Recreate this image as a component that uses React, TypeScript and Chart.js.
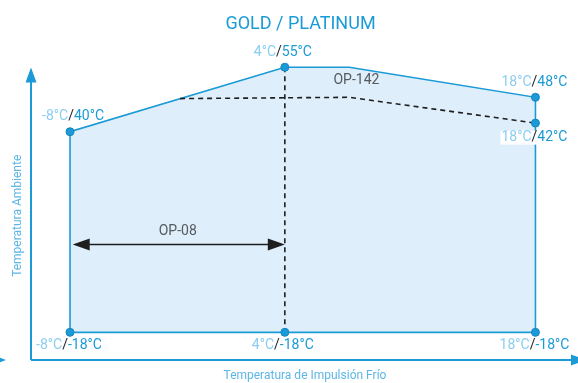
import React, { useEffect, useRef } from 'react';
import { Chart, registerables, LinearScale } from 'chart.js';

// ---------- data ----------
const TITLE = 'GOLD / PLATINUM';
const Y_TITLE = 'Temperatura Ambiente';
const X_TITLE = 'Temperatura de Impulsión Frío';

// labelled operating points: cold supply temperature (x) / ambient temperature (y)
const POINT_X = [-8, 4, 18, 18, -8, 4, 18];
const POINT_Y = [40, 55, 48, 42, -18, -18, -18];

// operating envelope (closed outline)
const ENVELOPE_X = [-8, -8, 4, 7.6, 18, 18, 18, -8];
const ENVELOPE_Y = [-18, 40, 55, 55, 48, 42, -18, -18];

// upper edge of envelope (used for the fill)
const TOP_X = [-8, 4, 7.6, 18];
const TOP_Y = [40, 55, 55, 48];
const FLOOR_Y = -18;

// OP-142 limit (dashed)
const OP142_X = [-1.85, 7.6, 18];
const OP142_Y = [47.7, 48, 42];
const OP142_LABEL = 'OP-142';
const OP142_LABEL_AT = [8, 51.8];

// vertical dashed guide at 4 °C
const GUIDE_X = [4, 4];
const GUIDE_Y = [55, -18];

// OP-08 range arrow
const OP08_X = [-7.85, 4];
const OP08_Y = 7.4;
const OP08_LABEL = 'OP-08';

// ---------- colours ----------
const BLUE = '#1a9ad6';
const LIGHT_BLUE = '#8ccdf0';
const AXIS_TITLE = '#5db6e6';
const FILL = '#deeefa';
const DARK = '#1e1e1e';
const GREY = '#555a5f';
const FONT = 'Roboto';

// ---------- schematic scale (compressed below the 40 °C break) ----------
const BREAK = 40;
const K = 0.8044;
const toS = (v: number) => (v >= BREAK ? v : BREAK - (BREAK - v) * K);
const fromS = (t: number) => (t >= BREAK ? t : BREAK - (BREAK - t) / K);

class SchematicScale extends (LinearScale as any) {
  static id = 'schematic';
  static defaults = (LinearScale as any).defaults;
  getPixelForValue(v: number) {
    return super.getPixelForValue(toS(v));
  }
  getValueForPixel(p: number) {
    return fromS(super.getValueForPixel(p));
  }
}

Chart.register(...registerables, SchematicScale as any);

const pts = (xs: number[], ys: number[]) => xs.map((x, i) => ({ x, y: ys[i] }));

const overlay = {
  id: 'overlay',
  afterDatasetsDraw(chart: any) {
    const { ctx, chartArea, scales } = chart;
    const px = (v: number) => scales.x.getPixelForValue(v);
    const py = (v: number) => scales.y.getPixelForValue(v);
    const ox = chartArea.left;
    const oy = chartArea.bottom;
    ctx.save();

    // axes with arrows
    ctx.strokeStyle = BLUE;
    ctx.fillStyle = BLUE;
    ctx.lineWidth = 2;
    const yTip = chartArea.top + 28;
    ctx.beginPath();
    ctx.moveTo(ox, oy);
    ctx.lineTo(ox, yTip + 12);
    ctx.moveTo(ox, oy);
    ctx.lineTo(chart.width, oy);
    ctx.stroke();
    ctx.beginPath();
    ctx.moveTo(ox, yTip);
    ctx.lineTo(ox - 5.5, yTip + 15);
    ctx.lineTo(ox + 5.5, yTip + 15);
    ctx.closePath();
    ctx.fill();
    const xTip = chart.width + 8;
    ctx.beginPath();
    ctx.moveTo(xTip, oy);
    ctx.lineTo(xTip - 15, oy - 5.5);
    ctx.lineTo(xTip - 15, oy + 5.5);
    ctx.closePath();
    ctx.fill();
    ctx.beginPath();
    ctx.moveTo(6, oy);
    ctx.lineTo(-9, oy - 5.5);
    ctx.lineTo(-9, oy + 5.5);
    ctx.closePath();
    ctx.fill();

    // axis titles
    ctx.fillStyle = AXIS_TITLE;
    ctx.font = `12px ${FONT}`;
    ctx.textAlign = 'center';
    ctx.textBaseline = 'middle';
    ctx.fillText(X_TITLE, 305, oy + 16);
    ctx.save();
    ctx.translate(ox - 13, (chartArea.top + oy) / 2 + 16);
    ctx.rotate(-Math.PI / 2);
    ctx.fillText(Y_TITLE, 0, 0);
    ctx.restore();

    // OP-08 arrow
    const ay = py(OP08_Y);
    const a0 = px(OP08_X[0]);
    const a1 = px(OP08_X[1]);
    ctx.strokeStyle = DARK;
    ctx.fillStyle = DARK;
    ctx.lineWidth = 1.5;
    ctx.beginPath();
    ctx.moveTo(a0 + 10, ay);
    ctx.lineTo(a1 - 10, ay);
    ctx.stroke();
    const head = (tip: number, dir: number) => {
      ctx.beginPath();
      ctx.moveTo(tip, ay);
      ctx.lineTo(tip - dir * 17, ay - 6);
      ctx.lineTo(tip - dir * 17, ay + 6);
      ctx.closePath();
      ctx.fill();
    };
    head(a0, -1);
    head(a1, 1);

    // OP labels
    ctx.font = `14px ${FONT}`;
    ctx.fillStyle = GREY;
    ctx.textAlign = 'center';
    ctx.fillText(OP08_LABEL, (a0 + a1) / 2 - 1, ay - 13);
    ctx.fillText(OP142_LABEL, px(OP142_LABEL_AT[0]), py(OP142_LABEL_AT[1]));

    // point labels  "x°C/y°C"
    ctx.textAlign = 'left';
    POINT_X.forEach((xv, i) => {
      const yv = POINT_Y[i];
      const left = `${xv}°C`;
      const slash = '/';
      const right = `${yv}°C`;
      const wl = ctx.measureText(left).width;
      const ws = ctx.measureText(slash).width;
      const wr = ctx.measureText(right).width;
      const w = wl + ws + wr;
      const cxp = px(xv) + (xv === POINT_X[0] && yv !== FLOOR_Y ? 3 : xv === 4 ? -2 : -1);
      const isFloor = yv === FLOOR_Y;
      const isInner = i === 3;
      const cyp = py(yv) + (isFloor ? 13.5 : isInner ? 14.5 : -15);
      const sx = cxp - w / 2;
      if (isInner) {
        ctx.fillStyle = '#ffffff';
        ctx.fillRect(sx - 1, cyp - 7, w + 2, 14);
      }
      ctx.fillStyle = LIGHT_BLUE;
      ctx.fillText(left, sx, cyp);
      ctx.fillStyle = DARK;
      ctx.fillText(slash, sx + wl, cyp);
      ctx.fillStyle = BLUE;
      ctx.fillText(right, sx + wl + ws, cyp);
    });
    ctx.restore();
  },
};

export default function App() {
  const ref = useRef<HTMLCanvasElement>(null);
  useEffect(() => {
    if (!ref.current) return;
    const chart = new Chart(ref.current, {
      type: 'scatter',
      data: {
        datasets: [
          {
            data: pts(POINT_X, POINT_Y),
            pointRadius: 4,
            pointBackgroundColor: BLUE,
            pointBorderColor: '#1585c0',
            pointBorderWidth: 1,
            showLine: false,
            order: 1,
          } as any,
          {
            data: pts(OP142_X, OP142_Y),
            showLine: true,
            borderColor: DARK,
            borderWidth: 1.6,
            borderDash: [5, 4],
            pointRadius: 0,
            order: 3,
          },
          {
            data: pts(GUIDE_X, GUIDE_Y),
            showLine: true,
            borderColor: DARK,
            borderWidth: 1.6,
            borderDash: [5, 4],
            pointRadius: 0,
            order: 3,
          },
          {
            data: pts(ENVELOPE_X, ENVELOPE_Y),
            showLine: true,
            borderColor: BLUE,
            borderWidth: 1.6,
            pointRadius: 0,
            order: 4,
          },
          {
            data: pts(TOP_X, TOP_Y),
            showLine: true,
            borderWidth: 0,
            borderColor: 'rgba(0,0,0,0)',
            backgroundColor: FILL,
            fill: { value: FLOOR_Y },
            pointRadius: 0,
            order: 5,
          } as any,
        ],
      },
      options: {
        animation: false,
        responsive: false,
        events: [],
        layout: { padding: { left: 31, right: 8, top: 0, bottom: 23 } },
        plugins: {
          legend: { display: false },
          tooltip: { enabled: false },
          title: {
            display: true,
            text: TITLE,
            color: BLUE,
            font: { family: FONT, size: 18, weight: 'normal' as any },
            padding: { top: 14, bottom: 4 },
          },
        },
        scales: {
          x: { type: 'linear', min: -10.18, max: 19.93, display: false },
          y: { type: 'schematic' as any, min: -13.09, max: 61.42, display: false },
        },
      },
      plugins: [overlay],
    });
    return () => chart.destroy();
  }, []);
  return (
    <div style={{ position: 'absolute', left: 0, top: 0, width: 578, height: 383, background: '#fff' }}>
      <canvas ref={ref} width={578} height={383} />
    </div>
  );
}
